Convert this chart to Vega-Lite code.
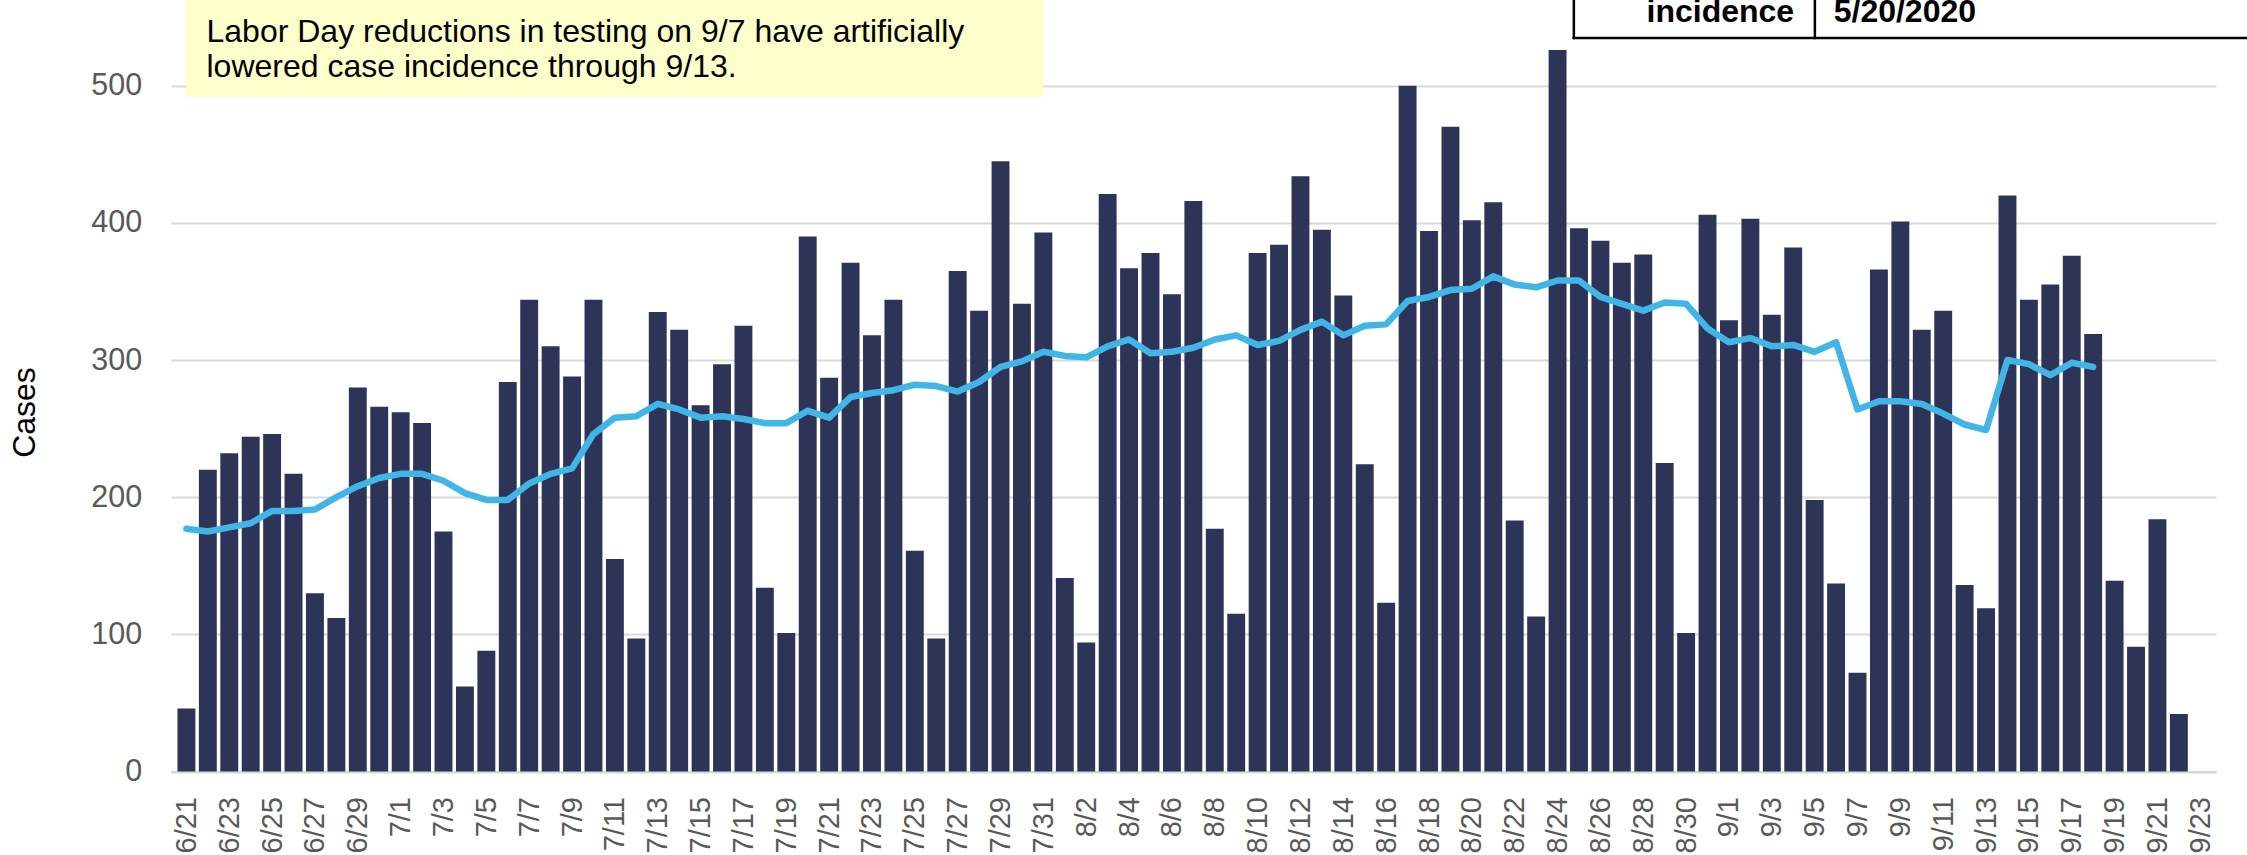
{
  "$schema": "https://vega.github.io/schema/vega-lite/v6.json",
  "width": 2045.3,
  "height": 771.5,
  "autosize": {"type": "none"},
  "padding": {"left": 170.7, "top": 0, "right": 31, "bottom": 83.5},
  "background": "white",
  "config": {"view": {"stroke": null}, "font": "Liberation Sans"},
  "datasets": {
    "daily": [
      {"date": "2020-06-21", "cases": 46, "avg": 177},
      {"date": "2020-06-22", "cases": 220, "avg": 175},
      {"date": "2020-06-23", "cases": 232, "avg": 178},
      {"date": "2020-06-24", "cases": 244, "avg": 181},
      {"date": "2020-06-25", "cases": 246, "avg": 190},
      {"date": "2020-06-26", "cases": 217, "avg": 190},
      {"date": "2020-06-27", "cases": 130, "avg": 191},
      {"date": "2020-06-28", "cases": 112, "avg": 200},
      {"date": "2020-06-29", "cases": 280, "avg": 208},
      {"date": "2020-06-30", "cases": 266, "avg": 214},
      {"date": "2020-07-01", "cases": 262, "avg": 217},
      {"date": "2020-07-02", "cases": 254, "avg": 217},
      {"date": "2020-07-03", "cases": 175, "avg": 212},
      {"date": "2020-07-04", "cases": 62, "avg": 203},
      {"date": "2020-07-05", "cases": 88, "avg": 198},
      {"date": "2020-07-06", "cases": 284, "avg": 198},
      {"date": "2020-07-07", "cases": 344, "avg": 210},
      {"date": "2020-07-08", "cases": 310, "avg": 217},
      {"date": "2020-07-09", "cases": 288, "avg": 221},
      {"date": "2020-07-10", "cases": 344, "avg": 246},
      {"date": "2020-07-11", "cases": 155, "avg": 258},
      {"date": "2020-07-12", "cases": 97, "avg": 259},
      {"date": "2020-07-13", "cases": 335, "avg": 268},
      {"date": "2020-07-14", "cases": 322, "avg": 264},
      {"date": "2020-07-15", "cases": 267, "avg": 258},
      {"date": "2020-07-16", "cases": 297, "avg": 259},
      {"date": "2020-07-17", "cases": 325, "avg": 257},
      {"date": "2020-07-18", "cases": 134, "avg": 254},
      {"date": "2020-07-19", "cases": 101, "avg": 254},
      {"date": "2020-07-20", "cases": 390, "avg": 263},
      {"date": "2020-07-21", "cases": 287, "avg": 258},
      {"date": "2020-07-22", "cases": 371, "avg": 273},
      {"date": "2020-07-23", "cases": 318, "avg": 276},
      {"date": "2020-07-24", "cases": 344, "avg": 278},
      {"date": "2020-07-25", "cases": 161, "avg": 282},
      {"date": "2020-07-26", "cases": 97, "avg": 281},
      {"date": "2020-07-27", "cases": 365, "avg": 277},
      {"date": "2020-07-28", "cases": 336, "avg": 284},
      {"date": "2020-07-29", "cases": 445, "avg": 295},
      {"date": "2020-07-30", "cases": 341, "avg": 299},
      {"date": "2020-07-31", "cases": 393, "avg": 306},
      {"date": "2020-08-01", "cases": 141, "avg": 303},
      {"date": "2020-08-02", "cases": 94, "avg": 302},
      {"date": "2020-08-03", "cases": 421, "avg": 310},
      {"date": "2020-08-04", "cases": 367, "avg": 315},
      {"date": "2020-08-05", "cases": 378, "avg": 305},
      {"date": "2020-08-06", "cases": 348, "avg": 306},
      {"date": "2020-08-07", "cases": 416, "avg": 309},
      {"date": "2020-08-08", "cases": 177, "avg": 315},
      {"date": "2020-08-09", "cases": 115, "avg": 318},
      {"date": "2020-08-10", "cases": 378, "avg": 311},
      {"date": "2020-08-11", "cases": 384, "avg": 314},
      {"date": "2020-08-12", "cases": 434, "avg": 322},
      {"date": "2020-08-13", "cases": 395, "avg": 328},
      {"date": "2020-08-14", "cases": 347, "avg": 318},
      {"date": "2020-08-15", "cases": 224, "avg": 325},
      {"date": "2020-08-16", "cases": 123, "avg": 326},
      {"date": "2020-08-17", "cases": 500, "avg": 343},
      {"date": "2020-08-18", "cases": 394, "avg": 346},
      {"date": "2020-08-19", "cases": 470, "avg": 351},
      {"date": "2020-08-20", "cases": 402, "avg": 352},
      {"date": "2020-08-21", "cases": 415, "avg": 361},
      {"date": "2020-08-22", "cases": 183, "avg": 355},
      {"date": "2020-08-23", "cases": 113, "avg": 353},
      {"date": "2020-08-24", "cases": 526, "avg": 358},
      {"date": "2020-08-25", "cases": 396, "avg": 358},
      {"date": "2020-08-26", "cases": 387, "avg": 346},
      {"date": "2020-08-27", "cases": 371, "avg": 341},
      {"date": "2020-08-28", "cases": 377, "avg": 336},
      {"date": "2020-08-29", "cases": 225, "avg": 342},
      {"date": "2020-08-30", "cases": 101, "avg": 341},
      {"date": "2020-08-31", "cases": 406, "avg": 323},
      {"date": "2020-09-01", "cases": 329, "avg": 313},
      {"date": "2020-09-02", "cases": 403, "avg": 316},
      {"date": "2020-09-03", "cases": 333, "avg": 310},
      {"date": "2020-09-04", "cases": 382, "avg": 311},
      {"date": "2020-09-05", "cases": 198, "avg": 306},
      {"date": "2020-09-06", "cases": 137, "avg": 313},
      {"date": "2020-09-07", "cases": 72, "avg": 264},
      {"date": "2020-09-08", "cases": 366, "avg": 270},
      {"date": "2020-09-09", "cases": 401, "avg": 270},
      {"date": "2020-09-10", "cases": 322, "avg": 268},
      {"date": "2020-09-11", "cases": 336, "avg": 261},
      {"date": "2020-09-12", "cases": 136, "avg": 253},
      {"date": "2020-09-13", "cases": 119, "avg": 249},
      {"date": "2020-09-14", "cases": 420, "avg": 300},
      {"date": "2020-09-15", "cases": 344, "avg": 297},
      {"date": "2020-09-16", "cases": 355, "avg": 289},
      {"date": "2020-09-17", "cases": 376, "avg": 298},
      {"date": "2020-09-18", "cases": 319, "avg": 295},
      {"date": "2020-09-19", "cases": 139, "avg": null},
      {"date": "2020-09-20", "cases": 91, "avg": null},
      {"date": "2020-09-21", "cases": 184, "avg": null},
      {"date": "2020-09-22", "cases": 42, "avg": null}
    ],
    "notebox": [
      {"start": "2020-06-21T00:00:00Z", "end": "2020-07-31T00:00:00Z", "low": 492, "high": 640}
    ],
    "notetext": [
      {"at": "2020-06-21T22:30:00Z", "v": 531.9, "label": "Labor Day reductions in testing on 9/7 have artificially"},
      {"at": "2020-06-21T22:30:00Z", "v": 506.6, "label": "lowered case incidence through 9/13."}
    ],
    "tablelines": [
      {"from": "2020-08-24T18:15:00Z", "to": "2020-08-24T18:15:00Z", "low": 534.8, "high": 640},
      {"from": "2020-09-05T00:15:00Z", "to": "2020-09-05T00:15:00Z", "low": 534.8, "high": 640},
      {"from": "2020-08-24T18:15:00Z", "to": "2020-09-28T00:00:00Z", "low": 534.8, "high": 534.8}
    ],
    "tablehead": [
      {"at": "2020-09-04T01:00:00Z", "v": 546.7, "label": "incidence"}
    ],
    "tablevalue": [
      {"at": "2020-09-05T21:20:00Z", "v": 546.7, "label": "5/20/2020"}
    ]
  },
  "layer": [
    {
      "data": {"name": "notebox"},
      "mark": {"type": "rect", "color": "#FFFFCC", "clip": false},
      "encoding": {
        "x": {"field": "start", "type": "temporal", "scale": {"type": "utc", "domain": [{"year": 2020, "month": 6, "date": 20, "hours": 12, "utc": true}, {"year": 2020, "month": 9, "date": 23, "hours": 12, "utc": true}]}},
        "x2": {"field": "end"},
        "y": {"field": "low", "type": "quantitative", "scale": {"domain": [0, 562.5], "nice": false}},
        "y2": {"field": "high"}
      }
    },
    {
      "data": {"name": "daily"},
      "mark": {"type": "bar", "color": "#2E3457", "width": 17.9},
      "encoding": {
        "x": {
          "field": "date",
          "type": "temporal",
          "scale": {"type": "utc", "domain": [{"year": 2020, "month": 6, "date": 20, "hours": 12, "utc": true}, {"year": 2020, "month": 9, "date": 23, "hours": 12, "utc": true}]},
          "axis": {
            "title": null,
            "values": [
              {"year": 2020, "month": 6, "date": 21, "utc": true},
              {"year": 2020, "month": 6, "date": 23, "utc": true},
              {"year": 2020, "month": 6, "date": 25, "utc": true},
              {"year": 2020, "month": 6, "date": 27, "utc": true},
              {"year": 2020, "month": 6, "date": 29, "utc": true},
              {"year": 2020, "month": 7, "date": 1, "utc": true},
              {"year": 2020, "month": 7, "date": 3, "utc": true},
              {"year": 2020, "month": 7, "date": 5, "utc": true},
              {"year": 2020, "month": 7, "date": 7, "utc": true},
              {"year": 2020, "month": 7, "date": 9, "utc": true},
              {"year": 2020, "month": 7, "date": 11, "utc": true},
              {"year": 2020, "month": 7, "date": 13, "utc": true},
              {"year": 2020, "month": 7, "date": 15, "utc": true},
              {"year": 2020, "month": 7, "date": 17, "utc": true},
              {"year": 2020, "month": 7, "date": 19, "utc": true},
              {"year": 2020, "month": 7, "date": 21, "utc": true},
              {"year": 2020, "month": 7, "date": 23, "utc": true},
              {"year": 2020, "month": 7, "date": 25, "utc": true},
              {"year": 2020, "month": 7, "date": 27, "utc": true},
              {"year": 2020, "month": 7, "date": 29, "utc": true},
              {"year": 2020, "month": 7, "date": 31, "utc": true},
              {"year": 2020, "month": 8, "date": 2, "utc": true},
              {"year": 2020, "month": 8, "date": 4, "utc": true},
              {"year": 2020, "month": 8, "date": 6, "utc": true},
              {"year": 2020, "month": 8, "date": 8, "utc": true},
              {"year": 2020, "month": 8, "date": 10, "utc": true},
              {"year": 2020, "month": 8, "date": 12, "utc": true},
              {"year": 2020, "month": 8, "date": 14, "utc": true},
              {"year": 2020, "month": 8, "date": 16, "utc": true},
              {"year": 2020, "month": 8, "date": 18, "utc": true},
              {"year": 2020, "month": 8, "date": 20, "utc": true},
              {"year": 2020, "month": 8, "date": 22, "utc": true},
              {"year": 2020, "month": 8, "date": 24, "utc": true},
              {"year": 2020, "month": 8, "date": 26, "utc": true},
              {"year": 2020, "month": 8, "date": 28, "utc": true},
              {"year": 2020, "month": 8, "date": 30, "utc": true},
              {"year": 2020, "month": 9, "date": 1, "utc": true},
              {"year": 2020, "month": 9, "date": 3, "utc": true},
              {"year": 2020, "month": 9, "date": 5, "utc": true},
              {"year": 2020, "month": 9, "date": 7, "utc": true},
              {"year": 2020, "month": 9, "date": 9, "utc": true},
              {"year": 2020, "month": 9, "date": 11, "utc": true},
              {"year": 2020, "month": 9, "date": 13, "utc": true},
              {"year": 2020, "month": 9, "date": 15, "utc": true},
              {"year": 2020, "month": 9, "date": 17, "utc": true},
              {"year": 2020, "month": 9, "date": 19, "utc": true},
              {"year": 2020, "month": 9, "date": 21, "utc": true},
              {"year": 2020, "month": 9, "date": 23, "utc": true}
            ],
            "labelExpr": "utcFormat(datum.value, '%-m/%-d')",
            "labelAngle": 270,
            "labelFontSize": 29,
            "labelFont": "Liberation Sans",
            "labelColor": "#595959",
            "labelPadding": 25,
            "labelOverlap": false,
            "labelFlush": false,
            "labelBound": false,
            "ticks": false,
            "grid": false,
            "domainColor": "#D9D9D9",
            "domainWidth": 2
          }
        },
        "y": {
          "field": "cases",
          "type": "quantitative",
          "scale": {"domain": [0, 562.5], "nice": false},
          "axis": {
            "values": [0, 100, 200, 300, 400, 500],
            "title": "Cases",
            "titleFont": "Liberation Sans",
            "titleFontSize": 32,
            "titleFontWeight": "normal",
            "titleColor": "#000000",
            "titleAngle": 270,
            "titleX": -146,
            "titleY": 412,
            "titleAlign": "center",
            "titleBaseline": "middle",
            "labelFont": "Liberation Sans",
            "labelFontSize": 30.5,
            "labelColor": "#595959",
            "labelPadding": 29,
            "ticks": false,
            "domain": false,
            "grid": true,
            "gridColor": "#D9D9D9",
            "gridWidth": 2
          }
        }
      }
    },
    {
      "data": {"name": "daily"},
      "mark": {"type": "line", "color": "#41B6E6", "strokeWidth": 6.5, "strokeCap": "round", "strokeJoin": "round"},
      "encoding": {
        "x": {"field": "date", "type": "temporal", "scale": {"type": "utc", "domain": [{"year": 2020, "month": 6, "date": 20, "hours": 12, "utc": true}, {"year": 2020, "month": 9, "date": 23, "hours": 12, "utc": true}]}},
        "y": {"field": "avg", "type": "quantitative", "scale": {"domain": [0, 562.5], "nice": false}}
      }
    },
    {
      "data": {"name": "notetext"},
      "mark": {"type": "text", "align": "left", "baseline": "alphabetic", "font": "Liberation Sans", "fontSize": 32, "color": "#000000", "clip": false},
      "encoding": {
        "x": {"field": "at", "type": "temporal", "scale": {"type": "utc", "domain": [{"year": 2020, "month": 6, "date": 20, "hours": 12, "utc": true}, {"year": 2020, "month": 9, "date": 23, "hours": 12, "utc": true}]}},
        "y": {"field": "v", "type": "quantitative", "scale": {"domain": [0, 562.5], "nice": false}},
        "text": {"field": "label"}
      }
    },
    {
      "data": {"name": "tablelines"},
      "mark": {"type": "rule", "color": "#000000", "strokeWidth": 2.5, "strokeCap": "square", "clip": false},
      "encoding": {
        "x": {"field": "from", "type": "temporal", "scale": {"type": "utc", "domain": [{"year": 2020, "month": 6, "date": 20, "hours": 12, "utc": true}, {"year": 2020, "month": 9, "date": 23, "hours": 12, "utc": true}]}},
        "x2": {"field": "to"},
        "y": {"field": "low", "type": "quantitative", "scale": {"domain": [0, 562.5], "nice": false}},
        "y2": {"field": "high"}
      }
    },
    {
      "data": {"name": "tablehead"},
      "mark": {"type": "text", "align": "right", "baseline": "alphabetic", "font": "Liberation Sans", "fontSize": 32, "fontWeight": "bold", "color": "#000000", "clip": false},
      "encoding": {
        "x": {"field": "at", "type": "temporal", "scale": {"type": "utc", "domain": [{"year": 2020, "month": 6, "date": 20, "hours": 12, "utc": true}, {"year": 2020, "month": 9, "date": 23, "hours": 12, "utc": true}]}},
        "y": {"field": "v", "type": "quantitative", "scale": {"domain": [0, 562.5], "nice": false}},
        "text": {"field": "label"}
      }
    },
    {
      "data": {"name": "tablevalue"},
      "mark": {"type": "text", "align": "left", "baseline": "alphabetic", "font": "Liberation Sans", "fontSize": 32, "fontWeight": "bold", "color": "#000000", "clip": false},
      "encoding": {
        "x": {"field": "at", "type": "temporal", "scale": {"type": "utc", "domain": [{"year": 2020, "month": 6, "date": 20, "hours": 12, "utc": true}, {"year": 2020, "month": 9, "date": 23, "hours": 12, "utc": true}]}},
        "y": {"field": "v", "type": "quantitative", "scale": {"domain": [0, 562.5], "nice": false}},
        "text": {"field": "label"}
      }
    }
  ]
}
